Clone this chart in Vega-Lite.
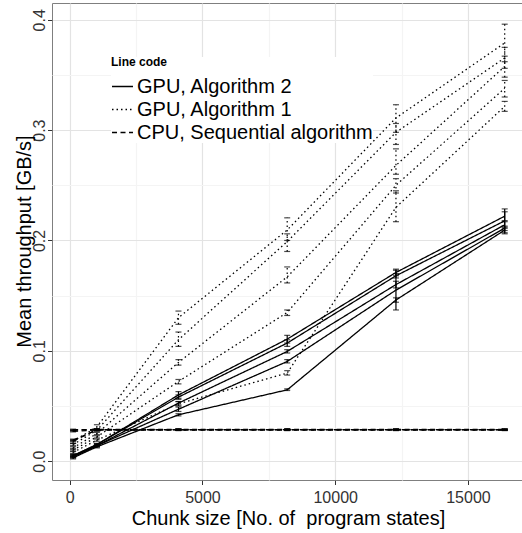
{
  "$schema": "https://vega.github.io/schema/vega-lite/v6.json",
  "width": 472,
  "height": 477,
  "autosize": {"type": "none"},
  "padding": {"left": 52, "top": 3, "right": 0, "bottom": 53},
  "background": "white",
  "config": {
    "view": {"stroke": "#7f7f7f", "strokeWidth": 1},
    "font": "Liberation Sans"
  },
  "data": {
    "values": [
      {"code": "GPU, Algorithm 2", "run": "S1", "size": 128, "tp": 0.005, "lo": 0.004, "hi": 0.006},
      {"code": "GPU, Algorithm 2", "run": "S1", "size": 1024, "tp": 0.015, "lo": 0.014, "hi": 0.016},
      {"code": "GPU, Algorithm 2", "run": "S1", "size": 4096, "tp": 0.06, "lo": 0.057, "hi": 0.063},
      {"code": "GPU, Algorithm 2", "run": "S1", "size": 8192, "tp": 0.1106, "lo": 0.107, "hi": 0.114},
      {"code": "GPU, Algorithm 2", "run": "S1", "size": 12288, "tp": 0.171, "lo": 0.168, "hi": 0.174},
      {"code": "GPU, Algorithm 2", "run": "S1", "size": 16384, "tp": 0.222, "lo": 0.218, "hi": 0.226},
      {"code": "GPU, Algorithm 2", "run": "S2", "size": 128, "tp": 0.005, "lo": 0.004, "hi": 0.006},
      {"code": "GPU, Algorithm 2", "run": "S2", "size": 1024, "tp": 0.015, "lo": 0.014, "hi": 0.016},
      {"code": "GPU, Algorithm 2", "run": "S2", "size": 4096, "tp": 0.058, "lo": 0.056, "hi": 0.06},
      {"code": "GPU, Algorithm 2", "run": "S2", "size": 8192, "tp": 0.107, "lo": 0.104, "hi": 0.11},
      {"code": "GPU, Algorithm 2", "run": "S2", "size": 12288, "tp": 0.168, "lo": 0.166, "hi": 0.17},
      {"code": "GPU, Algorithm 2", "run": "S2", "size": 16384, "tp": 0.2178, "lo": 0.206, "hi": 0.2286},
      {"code": "GPU, Algorithm 2", "run": "S3", "size": 128, "tp": 0.004, "lo": 0.003, "hi": 0.005},
      {"code": "GPU, Algorithm 2", "run": "S3", "size": 1024, "tp": 0.014, "lo": 0.013, "hi": 0.015},
      {"code": "GPU, Algorithm 2", "run": "S3", "size": 4096, "tp": 0.0526, "lo": 0.051, "hi": 0.054},
      {"code": "GPU, Algorithm 2", "run": "S3", "size": 8192, "tp": 0.0994, "lo": 0.098, "hi": 0.101},
      {"code": "GPU, Algorithm 2", "run": "S3", "size": 12288, "tp": 0.16, "lo": 0.157, "hi": 0.163},
      {"code": "GPU, Algorithm 2", "run": "S3", "size": 16384, "tp": 0.2142, "lo": 0.211, "hi": 0.217},
      {"code": "GPU, Algorithm 2", "run": "S4", "size": 128, "tp": 0.004, "lo": 0.003, "hi": 0.005},
      {"code": "GPU, Algorithm 2", "run": "S4", "size": 1024, "tp": 0.014, "lo": 0.013, "hi": 0.015},
      {"code": "GPU, Algorithm 2", "run": "S4", "size": 4096, "tp": 0.047, "lo": 0.045, "hi": 0.049},
      {"code": "GPU, Algorithm 2", "run": "S4", "size": 8192, "tp": 0.0903, "lo": 0.089, "hi": 0.092},
      {"code": "GPU, Algorithm 2", "run": "S4", "size": 12288, "tp": 0.155, "lo": 0.137, "hi": 0.173},
      {"code": "GPU, Algorithm 2", "run": "S4", "size": 16384, "tp": 0.2112, "lo": 0.209, "hi": 0.213},
      {"code": "GPU, Algorithm 2", "run": "S5", "size": 128, "tp": 0.003, "lo": 0.002, "hi": 0.004},
      {"code": "GPU, Algorithm 2", "run": "S5", "size": 1024, "tp": 0.013, "lo": 0.012, "hi": 0.014},
      {"code": "GPU, Algorithm 2", "run": "S5", "size": 4096, "tp": 0.042, "lo": 0.041, "hi": 0.043},
      {"code": "GPU, Algorithm 2", "run": "S5", "size": 8192, "tp": 0.0646, "lo": 0.064, "hi": 0.0655},
      {"code": "GPU, Algorithm 2", "run": "S5", "size": 12288, "tp": 0.146, "lo": 0.144, "hi": 0.148},
      {"code": "GPU, Algorithm 2", "run": "S5", "size": 16384, "tp": 0.2094, "lo": 0.207, "hi": 0.212},
      {"code": "GPU, Algorithm 1", "run": "D1", "size": 128, "tp": 0.018, "lo": 0.016, "hi": 0.02},
      {"code": "GPU, Algorithm 1", "run": "D1", "size": 1024, "tp": 0.031, "lo": 0.029, "hi": 0.033},
      {"code": "GPU, Algorithm 1", "run": "D1", "size": 4096, "tp": 0.13, "lo": 0.124, "hi": 0.136},
      {"code": "GPU, Algorithm 1", "run": "D1", "size": 8192, "tp": 0.2095, "lo": 0.2, "hi": 0.2205},
      {"code": "GPU, Algorithm 1", "run": "D1", "size": 12288, "tp": 0.311, "lo": 0.298, "hi": 0.323},
      {"code": "GPU, Algorithm 1", "run": "D1", "size": 16384, "tp": 0.379, "lo": 0.362, "hi": 0.396},
      {"code": "GPU, Algorithm 1", "run": "D2", "size": 128, "tp": 0.015, "lo": 0.014, "hi": 0.016},
      {"code": "GPU, Algorithm 1", "run": "D2", "size": 1024, "tp": 0.028, "lo": 0.027, "hi": 0.029},
      {"code": "GPU, Algorithm 1", "run": "D2", "size": 4096, "tp": 0.11, "lo": 0.104, "hi": 0.117},
      {"code": "GPU, Algorithm 1", "run": "D2", "size": 8192, "tp": 0.199, "lo": 0.19, "hi": 0.206},
      {"code": "GPU, Algorithm 1", "run": "D2", "size": 12288, "tp": 0.298, "lo": 0.287, "hi": 0.306},
      {"code": "GPU, Algorithm 1", "run": "D2", "size": 16384, "tp": 0.3654, "lo": 0.356, "hi": 0.375},
      {"code": "GPU, Algorithm 1", "run": "D3", "size": 128, "tp": 0.012, "lo": 0.011, "hi": 0.013},
      {"code": "GPU, Algorithm 1", "run": "D3", "size": 1024, "tp": 0.025, "lo": 0.024, "hi": 0.026},
      {"code": "GPU, Algorithm 1", "run": "D3", "size": 4096, "tp": 0.0894, "lo": 0.087, "hi": 0.092},
      {"code": "GPU, Algorithm 1", "run": "D3", "size": 8192, "tp": 0.167, "lo": 0.1615, "hi": 0.176},
      {"code": "GPU, Algorithm 1", "run": "D3", "size": 12288, "tp": 0.268, "lo": 0.26, "hi": 0.283},
      {"code": "GPU, Algorithm 1", "run": "D3", "size": 16384, "tp": 0.3577, "lo": 0.348, "hi": 0.367},
      {"code": "GPU, Algorithm 1", "run": "D4", "size": 128, "tp": 0.01, "lo": 0.009, "hi": 0.011},
      {"code": "GPU, Algorithm 1", "run": "D4", "size": 1024, "tp": 0.022, "lo": 0.021, "hi": 0.023},
      {"code": "GPU, Algorithm 1", "run": "D4", "size": 4096, "tp": 0.0722, "lo": 0.07, "hi": 0.074},
      {"code": "GPU, Algorithm 1", "run": "D4", "size": 8192, "tp": 0.1347, "lo": 0.132, "hi": 0.137},
      {"code": "GPU, Algorithm 1", "run": "D4", "size": 12288, "tp": 0.25, "lo": 0.243, "hi": 0.256},
      {"code": "GPU, Algorithm 1", "run": "D4", "size": 16384, "tp": 0.338, "lo": 0.33, "hi": 0.345},
      {"code": "GPU, Algorithm 1", "run": "D5", "size": 128, "tp": 0.008, "lo": 0.007, "hi": 0.009},
      {"code": "GPU, Algorithm 1", "run": "D5", "size": 1024, "tp": 0.019, "lo": 0.018, "hi": 0.02},
      {"code": "GPU, Algorithm 1", "run": "D5", "size": 4096, "tp": 0.052, "lo": 0.05, "hi": 0.054},
      {"code": "GPU, Algorithm 1", "run": "D5", "size": 8192, "tp": 0.0798, "lo": 0.078, "hi": 0.082},
      {"code": "GPU, Algorithm 1", "run": "D5", "size": 12288, "tp": 0.23, "lo": 0.217, "hi": 0.245},
      {"code": "GPU, Algorithm 1", "run": "D5", "size": 16384, "tp": 0.3215, "lo": 0.317, "hi": 0.326},
      {"code": "CPU, Sequential algorithm", "run": "C1", "size": 128, "tp": 0.0285, "lo": 0.028, "hi": 0.029},
      {"code": "CPU, Sequential algorithm", "run": "C1", "size": 1024, "tp": 0.0285, "lo": 0.028, "hi": 0.029},
      {"code": "CPU, Sequential algorithm", "run": "C1", "size": 4096, "tp": 0.0285, "lo": 0.028, "hi": 0.029},
      {"code": "CPU, Sequential algorithm", "run": "C1", "size": 8192, "tp": 0.0285, "lo": 0.028, "hi": 0.029},
      {"code": "CPU, Sequential algorithm", "run": "C1", "size": 12288, "tp": 0.0285, "lo": 0.028, "hi": 0.029},
      {"code": "CPU, Sequential algorithm", "run": "C1", "size": 16384, "tp": 0.0285, "lo": 0.028, "hi": 0.029},
      {"code": "CPU, Sequential algorithm", "run": "C2", "size": 128, "tp": 0.028, "lo": 0.0275, "hi": 0.0285},
      {"code": "CPU, Sequential algorithm", "run": "C2", "size": 1024, "tp": 0.0288, "lo": 0.0283, "hi": 0.0293},
      {"code": "CPU, Sequential algorithm", "run": "C2", "size": 4096, "tp": 0.0288, "lo": 0.0283, "hi": 0.0293},
      {"code": "CPU, Sequential algorithm", "run": "C2", "size": 8192, "tp": 0.0288, "lo": 0.0283, "hi": 0.0293},
      {"code": "CPU, Sequential algorithm", "run": "C2", "size": 12288, "tp": 0.0288, "lo": 0.0283, "hi": 0.0293},
      {"code": "CPU, Sequential algorithm", "run": "C2", "size": 16384, "tp": 0.0288, "lo": 0.0283, "hi": 0.0293},
      {"code": "CPU, Sequential algorithm", "run": "C3", "size": 128, "tp": 0.027, "lo": 0.0265, "hi": 0.0275},
      {"code": "CPU, Sequential algorithm", "run": "C3", "size": 1024, "tp": 0.0282, "lo": 0.0277, "hi": 0.0287},
      {"code": "CPU, Sequential algorithm", "run": "C3", "size": 4096, "tp": 0.0282, "lo": 0.0277, "hi": 0.0287},
      {"code": "CPU, Sequential algorithm", "run": "C3", "size": 8192, "tp": 0.0282, "lo": 0.0277, "hi": 0.0287},
      {"code": "CPU, Sequential algorithm", "run": "C3", "size": 12288, "tp": 0.0282, "lo": 0.0277, "hi": 0.0287},
      {"code": "CPU, Sequential algorithm", "run": "C3", "size": 16384, "tp": 0.0282, "lo": 0.0277, "hi": 0.0287},
      {"code": "CPU, Sequential algorithm", "run": "C4", "size": 128, "tp": 0.019, "lo": 0.0185, "hi": 0.0195},
      {"code": "CPU, Sequential algorithm", "run": "C4", "size": 1024, "tp": 0.0283, "lo": 0.0278, "hi": 0.0288},
      {"code": "CPU, Sequential algorithm", "run": "C4", "size": 4096, "tp": 0.0283, "lo": 0.0278, "hi": 0.0288},
      {"code": "CPU, Sequential algorithm", "run": "C4", "size": 8192, "tp": 0.0283, "lo": 0.0278, "hi": 0.0288},
      {"code": "CPU, Sequential algorithm", "run": "C4", "size": 12288, "tp": 0.0283, "lo": 0.0278, "hi": 0.0288},
      {"code": "CPU, Sequential algorithm", "run": "C4", "size": 16384, "tp": 0.0283, "lo": 0.0278, "hi": 0.0288},
      {"code": "CPU, Sequential algorithm", "run": "C5", "size": 128, "tp": 0.018, "lo": 0.0175, "hi": 0.0185},
      {"code": "CPU, Sequential algorithm", "run": "C5", "size": 1024, "tp": 0.0286, "lo": 0.0281, "hi": 0.0291},
      {"code": "CPU, Sequential algorithm", "run": "C5", "size": 4096, "tp": 0.0286, "lo": 0.0281, "hi": 0.0291},
      {"code": "CPU, Sequential algorithm", "run": "C5", "size": 8192, "tp": 0.0286, "lo": 0.0281, "hi": 0.0291},
      {"code": "CPU, Sequential algorithm", "run": "C5", "size": 12288, "tp": 0.0286, "lo": 0.0281, "hi": 0.0291},
      {"code": "CPU, Sequential algorithm", "run": "C5", "size": 16384, "tp": 0.0286, "lo": 0.0281, "hi": 0.0291}
    ]
  },
  "encoding": {
    "x": {
      "field": "size",
      "type": "quantitative",
      "scale": {"domain": [-667, 17111], "nice": false, "zero": false},
      "axis": {
        "title": "Chunk size [No. of\u00a0 program states]",
        "titleFont": "Liberation Sans",
        "titleFontSize": 20,
        "titleFontWeight": "normal",
        "titleColor": "black",
        "titlePadding": 3,
        "values": [0, 2500, 5000, 7500, 10000, 12500, 15000],
        "format": "d",
        "labelExpr": "datum.value % 5000 === 0 ? datum.label : ''",
        "labelFont": "Liberation Sans",
        "labelFontSize": 16,
        "labelColor": "#333333",
        "labelPadding": 5,
        "labelFlush": false,
        "labelOverlap": false,
        "tickSize": 4.5,
        "tickColor": "#333333",
        "tickOpacity": {"condition": {"test": "datum.value % 5000 === 0", "value": 1}, "value": 0},
        "domain": false,
        "grid": true,
        "gridColor": {"condition": {"test": "datum.value % 5000 === 0", "value": "#e3e3e3"}, "value": "#f4f4f4"},
        "gridWidth": 1.2
      }
    }
  },
  "layer": [
    {
      "mark": {"type": "line", "color": "black", "strokeWidth": 1.3},
      "encoding": {
        "y": {
          "field": "tp",
          "type": "quantitative",
          "scale": {"domain": [-0.0171, 0.4152], "nice": false, "zero": false},
          "axis": {
            "title": "Mean throughput [GB/s]",
            "titleFont": "Liberation Sans",
            "titleFontSize": 20,
            "titleFontWeight": "normal",
            "titleColor": "black",
            "titleAngle": 270,
            "titleAlign": "center",
            "titleBaseline": "alphabetic",
            "titleX": -22,
            "titleY": 238,
            "values": [0, 0.05, 0.1, 0.15, 0.2, 0.25, 0.3, 0.35, 0.4],
            "format": ".1f",
            "labelExpr": "abs(datum.value * 10 - round(datum.value * 10)) < 0.000001 ? datum.label : ''",
            "labelFont": "Liberation Sans",
            "labelAngle": 270,
            "labelAlign": "center",
            "labelBaseline": "alphabetic",
            "labelFontSize": 16,
            "labelColor": "#333333",
            "labelPadding": 3,
            "labelFlush": false,
            "labelOverlap": false,
            "tickSize": 4.5,
            "tickColor": "#333333",
            "tickOpacity": {"condition": {"test": "abs(datum.value * 10 - round(datum.value * 10)) < 0.000001", "value": 1}, "value": 0},
            "domain": false,
            "grid": true,
            "gridColor": {"condition": {"test": "abs(datum.value * 10 - round(datum.value * 10)) < 0.000001", "value": "#e3e3e3"}, "value": "#f4f4f4"},
            "gridWidth": 1.2
          }
        },
        "detail": {"field": "run", "type": "nominal"},
        "strokeDash": {
          "field": "code",
          "type": "nominal",
          "scale": {
            "domain": ["GPU, Algorithm 2", "GPU, Algorithm 1", "CPU, Sequential algorithm"],
            "range": [[1, 0], [1.5, 3], [5, 3.5]]
          },
          "legend": {
            "title": "Line code",
            "orient": "none",
            "legendX": 59,
            "legendY": 54,
            "titleFont": "Liberation Sans",
            "titleFontSize": 12,
            "titleFontWeight": "bold",
            "titleColor": "black",
            "titlePadding": 6,
            "labelFont": "Liberation Sans",
            "labelFontSize": 20,
            "labelColor": "black",
            "labelLimit": 400,
            "labelOffset": 3,
            "symbolType": "stroke",
            "symbolSize": 440,
            "symbolStrokeWidth": 1.5,
            "symbolStrokeColor": "black",
            "rowPadding": 1,
            "fillColor": "white"
          }
        }
      }
    },
    {
      "mark": {"type": "rule", "color": "black", "strokeWidth": 1.2},
      "encoding": {
        "y": {"field": "lo", "type": "quantitative"},
        "y2": {"field": "hi"},
        "strokeDash": {"field": "code", "type": "nominal", "legend": null}
      }
    },
    {
      "mark": {"type": "tick", "color": "black", "orient": "horizontal", "size": 6, "thickness": 1.2},
      "encoding": {
        "y": {"field": "lo", "type": "quantitative"}
      }
    },
    {
      "mark": {"type": "tick", "color": "black", "orient": "horizontal", "size": 6, "thickness": 1.2},
      "encoding": {
        "y": {"field": "hi", "type": "quantitative"}
      }
    }
  ]
}
